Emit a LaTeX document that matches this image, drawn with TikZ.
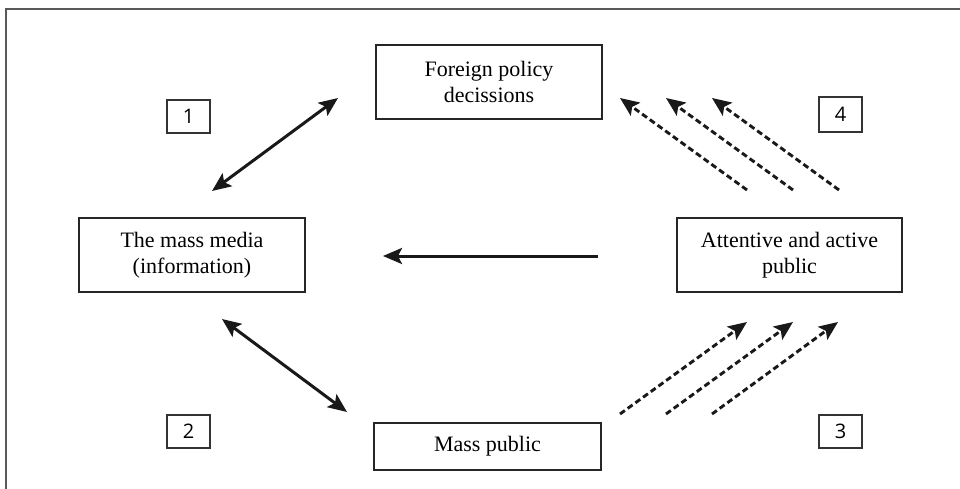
\documentclass[tikz,border=0pt]{standalone}
\usepackage{fontspec}
\setmainfont{Liberation Serif}
\newfontfamily\numfont{Open Sans}
\usetikzlibrary{arrows.meta}
\begin{document}
\begin{tikzpicture}[x=1pt,y=-1pt,
  >={Stealth[length=19pt,width=16pt,inset=4pt]},
  box/.style={draw=black!85,line width=1.5pt,rectangle,inner sep=0pt,align=center,
    font=\fontsize{22}{26}\selectfont},
  numbox/.style={draw=black!80,line width=1.4pt,rectangle,inner sep=0pt,
    minimum width=43pt,font=\numfont\fontsize{20}{22}\selectfont},
  solidarrow/.style={line width=3pt,black!90},
  dasharrow/.style={line width=2.9pt,black!90,dash pattern=on 6pt off 3.5pt}
]
\useasboundingbox (0,0) rectangle (960,489);
% frame
\draw[black!65,line width=1.8pt] (6,489) -- (6,9) -- (960,9);
% main boxes
\node[box,minimum width=226pt,minimum height=74pt] (fp) at (489,82) {Foreign policy\\decissions};
\node[box,minimum width=226pt,minimum height=74pt] (mm) at (192,255) {The mass media\\(information)};
\node[box,minimum width=225pt,minimum height=74pt] (ap) at (789.5,255) {Attentive and active\\public};
\node[box,minimum width=227pt,minimum height=47pt] (mp) at (487.5,446.5) {Mass public};
% number boxes
\node[numbox,minimum height=33pt] (n1) at (188.5,116.5) {1};
\node[numbox,minimum height=33pt] (n2) at (188.5,431.5) {2};
\node[numbox,minimum height=33pt] (n3) at (840.5,431.5) {3};
\node[numbox,minimum height=35pt] (n4) at (840.5,114.5) {4};
% arrow end points
\coordinate (a1s) at (212,191); \coordinate (a1e) at (338,98);
\coordinate (a2s) at (222,319); \coordinate (a2e) at (347,412);
\coordinate (hs) at (598,256); \coordinate (he) at (383,256);
\coordinate (u1s) at (747,190); \coordinate (u1e) at (620,98);
\coordinate (u2s) at (793,190); \coordinate (u2e) at (666,98);
\coordinate (u3s) at (839,190); \coordinate (u3e) at (712,98);
\coordinate (l1s) at (620,414); \coordinate (l1e) at (747,322);
\coordinate (l2s) at (666,414); \coordinate (l2e) at (793,322);
\coordinate (l3s) at (712,414); \coordinate (l3e) at (838,322);
% solid arrows
\draw[solidarrow,<->] (a1s) -- (a1e);
\draw[solidarrow,<->] (a2s) -- (a2e);
\draw[solidarrow,->] (hs) -- (he);
% dashed arrows
\foreach \p in {u1,u2,u3,l1,l2,l3}
  \draw[dasharrow,->] (\p s) -- (\p e);
\end{tikzpicture}
\end{document}
